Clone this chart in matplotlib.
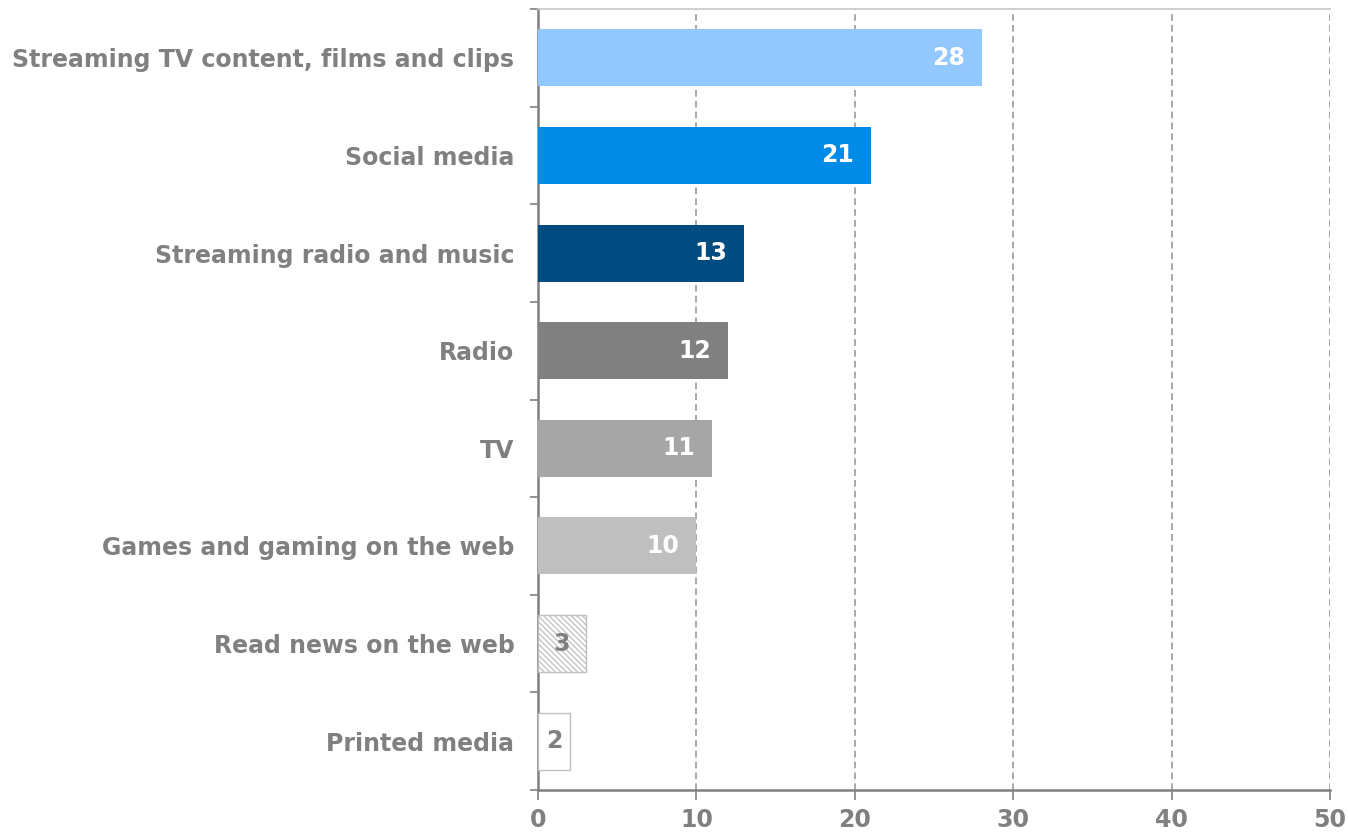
import matplotlib
matplotlib.use("Agg")
import matplotlib.pyplot as plt
from matplotlib.ticker import FixedLocator

categories = [
    "Streaming TV content, films and clips",
    "Social media",
    "Streaming radio and music",
    "Radio",
    "TV",
    "Games and gaming on the web",
    "Read news on the web",
    "Printed media",
]
values = [28, 21, 13, 12, 11, 10, 3, 2]
bar_colors = ["#93C8FF", "#008BE8", "#004B80", "#808080", "#A6A6A6", "#BFBFBF", "white", "white"]
hatches = [None, None, None, None, None, None, "\\" * 6, None]
edge_colors = ["none"] * 6 + ["#BFBFBF", "#BFBFBF"]
label_colors = ["white"] * 6 + ["#808080", "#808080"]
xticks = [0, 10, 20, 30, 40, 50]

GRAY = "#808080"
plt.rcParams["font.family"] = ["DejaVu Sans"]
plt.rcParams["hatch.color"] = "#8C8C8C"
plt.rcParams["hatch.linewidth"] = 0.9

fig = plt.figure(figsize=(13.48, 8.33), dpi=100)
ax = fig.add_axes([538 / 1348, 43 / 833, 792 / 1348, 781 / 833])

n = len(categories)
ypos = list(range(n))
for y, v, c, h, ec in zip(ypos, values, bar_colors, hatches, edge_colors):
    ax.barh(y, v, height=0.585, color=c, hatch=h, edgecolor=ec, linewidth=1.0, zorder=3)

for y, v, lc in zip(ypos, values, label_colors):
    if v < 5:
        ax.text(v / 2, y, str(v), ha="center", va="center", color=lc,
                fontsize=17, fontweight="bold", zorder=4)
    else:
        ax.annotate(str(v), (v, y), xytext=(-12, 0), textcoords="offset points",
                    ha="right", va="center", color=lc, fontsize=17,
                    fontweight="bold", zorder=4)

ax.set_xlim(0, 50)
ax.set_ylim(n - 0.5, -0.5)
ax.set_xticks(xticks)
ax.set_xticklabels([str(t) for t in xticks])
ax.set_yticks(ypos)
ax.set_yticklabels(categories)
ax.yaxis.set_minor_locator(FixedLocator([i - 0.5 for i in range(n + 1)]))

ax.tick_params(axis="y", which="major", length=0, pad=17, labelsize=17, labelcolor=GRAY)
ax.tick_params(axis="y", which="minor", length=6, width=1.2, color=GRAY, direction="out")
ax.tick_params(axis="x", which="major", length=7, width=1.2, color=GRAY, direction="out",
               labelsize=17, labelcolor=GRAY, pad=6)
for lbl in ax.get_xticklabels() + ax.get_yticklabels():
    lbl.set_fontweight("bold")

ax.xaxis.grid(True, linestyle=(0, (4, 2.5)), color="#999999", linewidth=1.2, zorder=0)
ax.set_axisbelow(True)

ax.spines["left"].set_color(GRAY)
ax.spines["left"].set_linewidth(1.8)
ax.spines["bottom"].set_color(GRAY)
ax.spines["bottom"].set_linewidth(1.8)
ax.spines["top"].set_color("#C8C8C8")
ax.spines["top"].set_linewidth(1.2)
ax.spines["right"].set_visible(False)

fig.savefig("out.png", dpi=100)
